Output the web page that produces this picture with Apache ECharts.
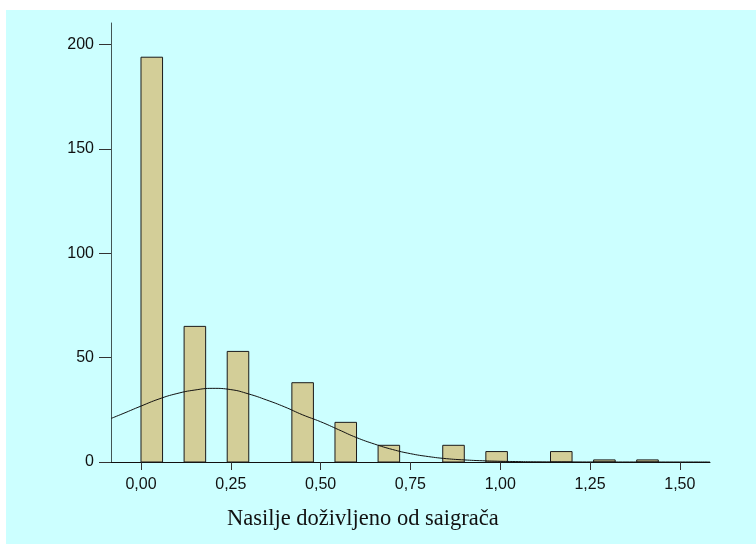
<!DOCTYPE html>
<html>
<head>
<meta charset="utf-8">
<script src="https://cdn.jsdelivr.net/npm/echarts@6/dist/echarts.min.js"></script>
<style>
html,body{margin:0;padding:0;background:#ffffff;}
#chart{width:756px;height:544px;}
</style>
</head>
<body>
<div id="chart"></div>
<script>
// Histogram bins (bin width 0.06), centers and counts
var binCenters = [0.03, 0.15, 0.27, 0.45, 0.57, 0.69, 0.87, 0.99, 1.17, 1.29, 1.41];
var binCounts  = [194, 65, 53, 38, 19, 8, 8, 5, 5, 1, 1];
var binWidth = 0.06;

// Normal curve
var curveX = [-0.083, -0.05, 0, 0.05, 0.10, 0.15, 0.20, 0.25, 0.30, 0.35, 0.40, 0.45, 0.50, 0.55, 0.60, 0.65, 0.70, 0.75, 0.80, 0.85, 0.90, 0.95, 1.00, 1.05, 1.10, 1.20, 1.30, 1.40, 1.50, 1.584];
var curveY = [20.9, 23.2, 26.8, 30.2, 32.8, 34.5, 35.3, 34.7, 32.6, 29.7, 26.4, 22.6, 19.3, 15.5, 11.7, 8.6, 6.0, 4.0, 2.6, 1.6, 1.0, 0.6, 0.35, 0.2, 0.1, 0.03, 0.01, 0, 0, 0];

var xTicks = [0, 0.25, 0.5, 0.75, 1.0, 1.25, 1.5];
var xTickLabels = ['0,00', '0,25', '0,50', '0,75', '1,00', '1,25', '1,50'];
var yTicks = [0, 50, 100, 150, 200];
var xTitle = 'Nasilje doživljeno od saigrača';

var barData = binCenters.map(function (c, i) { return [c, binCounts[i]]; });
var lineData = curveX.map(function (x, i) { return [x, curveY[i]]; });

var chart = echarts.init(document.getElementById('chart'));
chart.setOption({
  animation: false,
  backgroundColor: '#ffffff',
  graphic: [
    { type: 'rect', left: 6, top: 10, shape: { width: 750, height: 534 }, style: { fill: '#ccffff' }, z: -10 },
    { type: 'text', left: 227, top: 508, style: { text: xTitle, font: '22.5px "Liberation Serif", "Times New Roman", serif', fill: '#111111' } }
  ],
  grid: { left: 111, right: 46, top: 23, bottom: 82 },
  xAxis: {
    type: 'value',
    min: -0.0835,
    max: 1.584,
    splitLine: { show: false },
    axisLine: { show: true, onZero: false, lineStyle: { color: '#111111', width: 1 } },
    axisTick: { show: true, length: 8, customValues: xTicks, lineStyle: { color: '#333333' } },
    axisLabel: {
      customValues: xTicks,
      margin: 15,
      fontSize: 16,
      fontFamily: '"Liberation Sans", Arial, sans-serif',
      color: '#111111',
      formatter: function (v) { var i = xTicks.indexOf(v); return i >= 0 ? xTickLabels[i] : ''; }
    }
  },
  yAxis: {
    type: 'value',
    min: 0,
    max: 210.4,
    splitLine: { show: false },
    axisLine: { show: true, onZero: false, lineStyle: { color: '#445555', width: 1 } },
    axisTick: { show: true, length: 12, customValues: yTicks, lineStyle: { color: '#333333' } },
    axisLabel: {
      customValues: yTicks,
      margin: 17,
      fontSize: 16,
      fontFamily: '"Liberation Sans", Arial, sans-serif',
      color: '#111111'
    }
  },
  series: [
    {
      type: 'custom',
      data: barData,
      encode: { x: 0, y: 1 },
      renderItem: function (params, api) {
        var c = api.value(0), n = api.value(1);
        var p0 = api.coord([c - binWidth / 2, n]);
        var p1 = api.coord([c + binWidth / 2, 0]);
        return {
          type: 'rect',
          shape: { x: p0[0], y: p0[1], width: p1[0] - p0[0], height: p1[1] - p0[1] },
          style: { fill: '#d3ce98', stroke: '#1a1a1a', lineWidth: 1 }
        };
      },
      z: 2
    },
    {
      type: 'line',
      data: lineData,
      smooth: true,
      showSymbol: false,
      lineStyle: { color: '#111111', width: 1 },
      z: 3
    }
  ]
});
</script>
</body>
</html>
